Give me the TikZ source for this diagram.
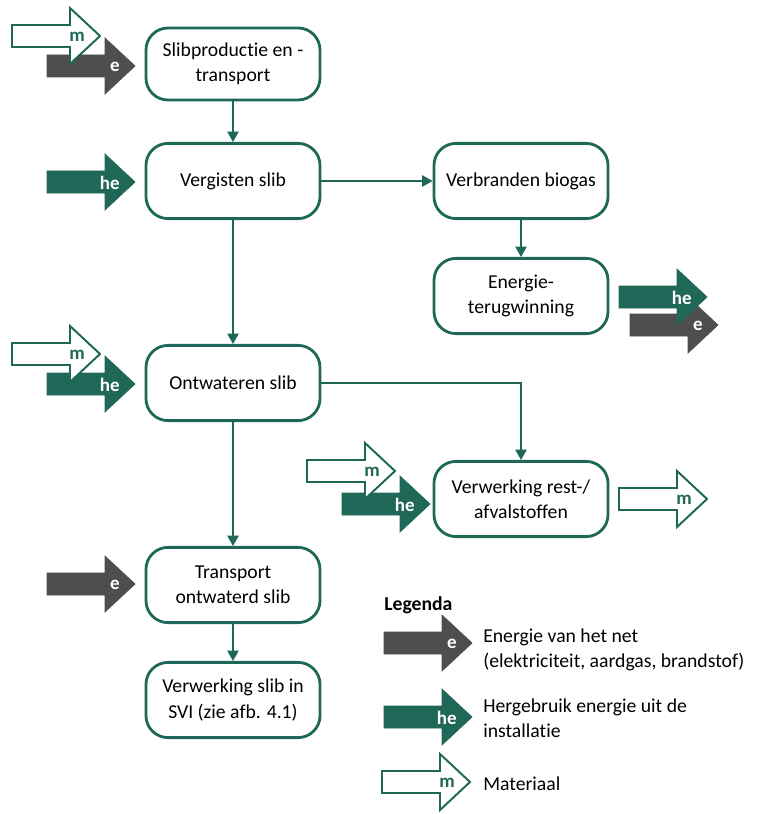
\documentclass[tikz,border=0pt]{standalone}
\usepackage{fontspec}
\setmainfont{Carlito}[Ligatures=NoCommon]
\usetikzlibrary{arrows.meta}
\definecolor{slibgreen}{RGB}{31,104,88}
\definecolor{netgray}{RGB}{78,78,78}
\tikzset{
  stap/.style={draw=slibgreen,line width=2pt,rounded corners=0.55cm,fill=white,
    minimum width=4.35cm,minimum height=1.88cm,align=center,
    font=\fontsize{14}{18}\selectfont},
  flow/.style={draw=slibgreen,line width=1.4pt,-{Triangle[length=2.6mm,width=2.8mm]}},
  earrow/.style={fill=netgray,draw=netgray,line width=0.5pt},
  hearrow/.style={fill=slibgreen,draw=slibgreen,line width=0.5pt},
  marrow/.style={fill=white,draw=slibgreen,line width=1.4pt},
  elabel/.style={text=white,font=\fontsize{13.5}{13.5}\selectfont\bfseries,inner sep=0pt,anchor=east},
  helabel/.style={elabel},
  mlabel/.style={elabel,text=slibgreen},
  legtext/.style={anchor=west,align=left,inner sep=0pt,font=\fontsize{14}{18}\selectfont}
}
\begin{document}
\begin{tikzpicture}[x=0.025cm,y=-0.025cm]
\newcommand{\bigarrow}[4]{% name, kind, tip x, tip y
        \draw[#2arrow] (#3,#4) -- ++(-30,-28) -- ++(0,17) -- ++(-58,0) -- ++(0,22)
                -- ++(58,0) -- ++(0,17) -- cycle;
        \node[#2label] (#1) at (#3-15,#4+1) {#2};
}
\useasboundingbox (0,0) rectangle (774,814);
        % process steps
        \node[stap,minimum height=1.8cm] (slib) at (233,64) {Slibproductie en -\\transport};
        \node[stap] (vergisten) at (233,181) {Vergisten slib};
        \node[stap] (verbranden) at (521,181) {Verbranden biogas};
        \node[stap] (energie) at (521,296) {Energie-\\terugwinning};
        \node[stap] (ontwateren) at (233,383) {Ontwateren slib};
        \node[stap] (verwerking) at (521,499) {Verwerking rest-/\\afvalstoffen};
        \node[stap] (transport) at (233,585) {Transport\\ontwaterd slib};
        \node[stap] (svi) at (233,700) {Verwerking slib in\\SVI (zie afb. 4.1)};
        % connectors
        \draw[flow] (slib) -- (vergisten);
        \draw[flow] (vergisten) -- (verbranden);
        \draw[flow] (verbranden) -- (energie);
        \draw[flow] (vergisten) -- (ontwateren);
        \draw[flow] (ontwateren.east) -| (verwerking.north);
        \draw[flow] (ontwateren) -- (transport);
        \draw[flow] (transport) -- (svi);
        % in- and output arrows
        \bigarrow{slibE}{e}{135}{66}
        \bigarrow{slibM}{m}{100}{36}
        \bigarrow{vergHE}{he}{135}{182}
        \bigarrow{energE}{e}{718}{325}
        \bigarrow{energHE}{he}{707}{297}
        \bigarrow{ontwHE}{he}{135}{384}
        \bigarrow{ontwM}{m}{100}{354}
        \bigarrow{verwHE}{he}{430}{504}
        \bigarrow{verwM}{m}{395}{471}
        \bigarrow{verwOut}{m}{707}{499}
        \bigarrow{transE}{e}{135}{584}
        % legend
        \node[legtext,font=\fontsize{14}{18}\selectfont\bfseries] (legenda) at (384,605) {Legenda};
        \bigarrow{legE}{e}{472}{643}
        \bigarrow{legHE}{he}{472}{717}
        \bigarrow{legM}{m}{470}{782}
        \node[legtext] (legEtext) at (483,650) {Energie van het net\\(elektriciteit, aardgas, brandstof)};
        \node[legtext] (legHEtext) at (483,718) {Hergebruik energie uit de\\installatie};
        \node[legtext] (legMtext) at (483,784) {Materiaal};
\end{tikzpicture}
\end{document}
